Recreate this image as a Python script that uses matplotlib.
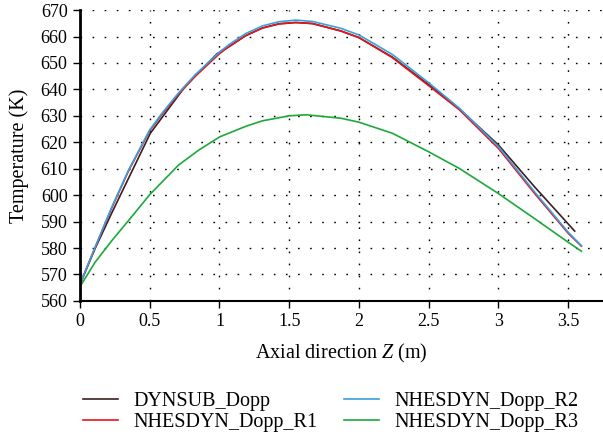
import numpy as np
import matplotlib
matplotlib.use('Agg')
import matplotlib.pyplot as plt
from matplotlib.ticker import FormatStrFormatter

plt.rcParams['font.family'] = ['Liberation Serif', 'DejaVu Serif']
plt.rcParams['mathtext.fontset'] = 'custom'
plt.rcParams['mathtext.it'] = 'Liberation Serif:italic'
plt.rcParams['mathtext.rm'] = 'Liberation Serif'

# Values
z_dynsub = [0, 0.108, 0.228, 0.504, 0.755, 0.983, 1.07, 1.187, 1.307, 1.427, 1.547, 1.667,
            1.87, 2.0, 2.24, 2.5, 2.72, 3.0, 3.26, 3.547]
t_dynsub = [566.3, 579.8, 593.3, 623.4, 641.2, 653.5, 656.2, 660.3, 663.2, 664.8, 665.3, 664.9,
            662.1, 659.6, 652.2, 641.8, 632.6, 619.0, 603.1, 586.4]

z_nhes = [0, 0.108, 0.228, 0.348, 0.5, 0.588, 0.707, 0.827, 1.0, 1.07, 1.187, 1.307, 1.427,
          1.547, 1.667, 1.87, 2.0, 2.24, 2.5, 2.72, 3.0, 3.26, 3.5, 3.595]
t_r1 = [566.3, 580.2, 595.2, 609.2, 624.4, 630.6, 638.2, 645.0, 653.5, 656.3, 660.3, 663.2, 664.8,
        665.3, 664.9, 662.1, 659.6, 652.0, 641.4, 632.3, 617.7, 600.6, 585.6, 580.7]
t_r2 = [566.3, 580.3, 595.5, 609.5, 624.7, 631.0, 638.7, 645.6, 654.1, 657.0, 661.1, 664.0, 665.6,
        666.2, 665.7, 663.1, 660.6, 653.2, 642.5, 632.9, 618.4, 601.2, 586.0, 580.9]

z_r3 = [0, 0.108, 0.228, 0.348, 0.5, 0.707, 0.85, 1.0, 1.187, 1.307, 1.5, 1.62, 1.87, 2.0, 2.24,
        2.5, 2.72, 3.0, 3.26, 3.5, 3.595]
t_r3 = [565.4, 574.6, 582.8, 590.4, 600.2, 611.4, 617.0, 622.0, 626.0, 628.1, 630.0, 630.4, 629.1,
        627.6, 623.4, 616.4, 610.1, 600.6, 591.1, 582.2, 578.8]

fig = plt.figure(figsize=(6.03, 4.38), dpi=100)
ax = fig.add_axes([0.1327, 0.313, 0.8673, 0.664])

ax.plot(z_dynsub, t_dynsub, color='#3b1f1f', lw=1.2, label='DYNSUB_Dopp')
ax.plot(z_nhes, t_r1, color='#e8141b', lw=1.2, label='NHESDYN_Dopp_R1')
ax.plot(z_nhes, t_r2, color='#3aa0dc', lw=1.2, label='NHESDYN_Dopp_R2')
ax.plot(z_r3, t_r3, color='#1aaa3a', lw=1.2, label='NHESDYN_Dopp_R3')

ax.set_xlim(0, 3.75)
ax.set_ylim(560, 670)
ax.set_xticks(np.arange(0, 3.51, 0.5))
ax.set_yticks(np.arange(560, 671, 10))
ax.xaxis.set_major_formatter(FormatStrFormatter('%g'))
ax.grid(True, color='black', linestyle=(0, (1.2, 7.5)), lw=1.0)

for s in ['top', 'right']:
    ax.spines[s].set_visible(False)
ax.spines['left'].set_linewidth(2)
ax.spines['bottom'].set_linewidth(1.5)
ax.tick_params(labelsize=13, direction='out', length=5, width=1, pad=4)

ax.set_xlabel('Axial direction $Z$ (m)', fontsize=14.5, labelpad=8)
ax.set_ylabel('Temperature (K)', fontsize=14.5, labelpad=8)

fig.legend(loc='upper left', bbox_to_anchor=(0.1376, 0.106), ncol=2, frameon=False,
           fontsize=14.5, handlelength=1.75, handletextpad=0.75, columnspacing=1.3,
           labelspacing=0.1, borderpad=0, borderaxespad=0)

fig.savefig('out.png', dpi=100)
